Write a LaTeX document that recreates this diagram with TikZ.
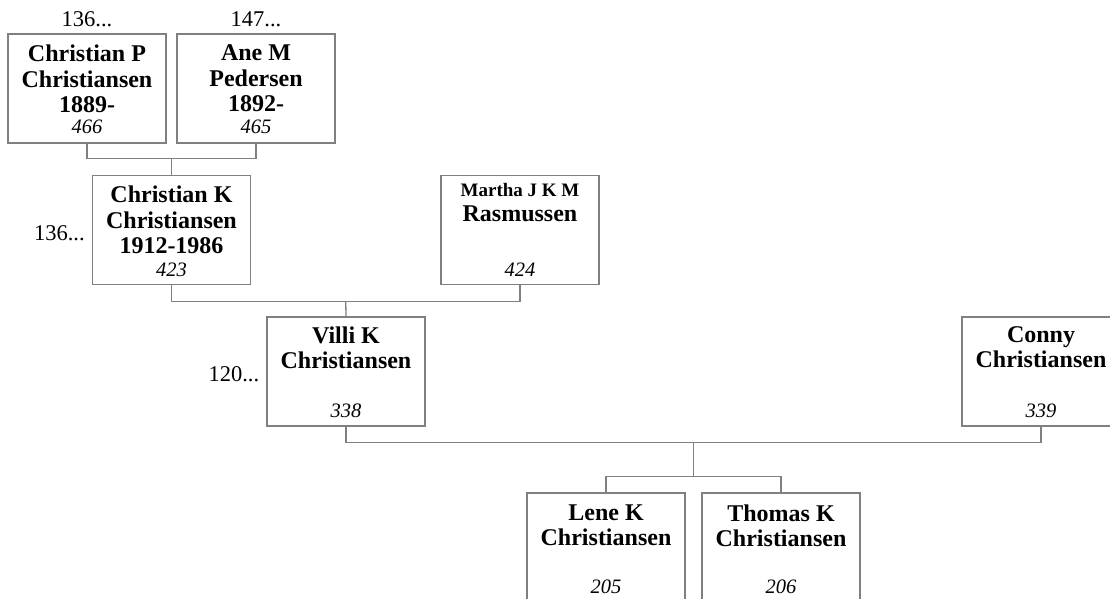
\documentclass[tikz,border=0pt]{standalone}
\usepackage{fontspec}
\setmainfont{Liberation Serif}
\usetikzlibrary{calc,positioning}
\definecolor{treegray}{RGB}{128,128,128}
\tikzset{
  pbox/.style={draw=treegray, line width=1.3pt, minimum width=158pt, minimum height=109pt,
               inner sep=0pt},
  pname/.style={anchor=north, align=center, inner sep=0pt, yshift=-11pt,
               font=\fontsize{24}{25.5}\selectfont\bfseries},
  pnum/.style={anchor=base, inner sep=0pt, yshift=9pt, font=\fontsize{20.5}{22}\selectfont\itshape},
  pref/.style={inner sep=0pt, font=\fontsize{22.5}{24}\selectfont},
  link/.style={draw=treegray, line width=1.3pt},
}

\begin{document}
\begin{tikzpicture}[x=1pt,y=-1pt]
    \useasboundingbox (0,0) rectangle (1110,598);
    \clip (0,0) rectangle (1110,598);
    % grandparents
    \node[pbox] (cp) at (87,88.5) {};
    \node[pname, yshift=-0.5pt] (cpname) at (cp.north) {Christian P\\Christiansen\\1889-};
    \node[pnum, yshift=1pt] (cpnum) at (cp.south) {466};
    \node[pref, anchor=south, yshift=6pt] (cpref) at (cp.north) {136...};
    \node[pbox] (am) at (256,88.5) {};
    \node[pname, yshift=-0.5pt] (amname) at (am.north) {Ane M\\Pedersen\\1892-};
    \node[pnum, yshift=1pt] (amnum) at (am.south) {465};
    \node[pref, anchor=south, yshift=6pt] (amref) at (am.north) {147...};
    % parents
    \node[pbox] (ck) at (171.5,230) {};
    \node[pname] (ckname) at (ck.north) {Christian K\\Christiansen\\1912-1986};
    \node[pnum] (cknum) at (ck.south) {423};
    \node[pref, anchor=base east, xshift=-7pt, yshift=-10pt] (ckref) at (ck.west) {136...};
    \node[pbox] (mr) at (520,230) {};
    \node[pname, yshift=3pt] (mrname) at (mr.north)
      {{\fontsize{19}{22}\selectfont Martha J K M}\\Rasmussen};
    \node[pnum] (mrnum) at (mr.south) {424};
    % couple
    \node[pbox] (vk) at (346,371.5) {};
    \node[pname, yshift=1pt] (vkname) at (vk.north) {Villi K\\Christiansen};
    \node[pnum] (vknum) at (vk.south) {338};
    \node[pref, anchor=base east, xshift=-7pt, yshift=-10pt] (vkref) at (vk.west) {120...};
    \node[pbox] (cc) at (1041,371.5) {};
    \node[pname, yshift=1pt] (ccname) at (cc.north) {Conny\\Christiansen};
    \node[pnum] (ccnum) at (cc.south) {339};
    % children
    \node[pbox] (lk) at (606,547.5) {};
    \node[pname, yshift=-1pt] (lkname) at (lk.north) {Lene K\\Christiansen};
    \node[pnum] (lknum) at (lk.south) {205};
    \node[pbox] (tk) at (781,547.5) {};
    \node[pname, yshift=-1pt] (tkname) at (tk.north) {Thomas K\\Christiansen};
    \node[pnum] (tknum) at (tk.south) {206};
    % connectors
    \coordinate (cpam) at ($(cp.south)!.5!(am.south)+(0,15)$);
    \draw[link] (cp.south) |- (cpam) -| (am.south);
    \draw[link] (cpam) -- (ck.north);
    \coordinate (ckmr) at ($(ck.south)!.5!(mr.south)+(0,16)$);
    \draw[link] (ck.south) |- (ckmr) -| (mr.south);
    \draw[link] (ckmr) -- (vk.north);
    \coordinate (vkcc) at ($(vk.south)!.5!(cc.south)+(0,16)$);
    \draw[link] (vk.south) |- (vkcc) -| (cc.south);
    \coordinate (kids) at ($(lk.north)!.5!(tk.north)+(0,-16)$);
    \draw[link] (vkcc) -- (kids);
    \draw[link] (lk.north) |- (kids) -| (tk.north);
\end{tikzpicture}
\end{document}
